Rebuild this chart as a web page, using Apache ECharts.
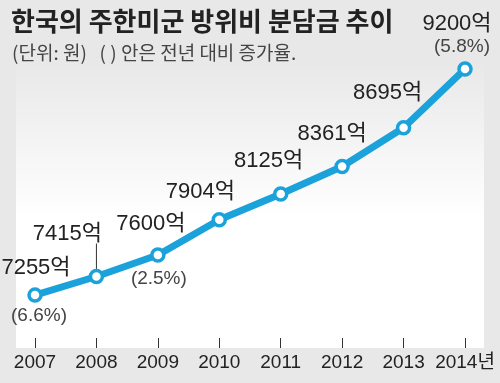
<!DOCTYPE html>
<html><head><meta charset="utf-8">
<script src="https://cdn.jsdelivr.net/npm/echarts@6/dist/echarts.min.js"></script>
<style>html,body{margin:0;padding:0;background:#e8e8e8;}#c{width:500px;height:383px;}</style>
</head><body><div id="c"></div>
<script>
const years = ['2007','2008','2009','2010','2011','2012','2013','2014년'];
const values = [7255, 7415, 7600, 7904, 8125, 8361, 8695, 9200];
const valueLabels = ['7255억','7415억','7600억','7904억','8125억','8361억','8695억','9200억'];
const pctLabels = ['(6.6%)', null, '(2.5%)', null, null, null, null, '(5.8%)'];
const titleText = '한국의 주한미군 방위비 분담금 추이';
const subText = '(단위: 원)   ( ) 안은 전년 대비 증가율.';

const valOffsets = [[1,-27],[-29,-43],[-7,-31],[-19,-28],[-12,-33],[-10,-33],[-16,-35],[-8,-45]];
const pctOffsets = [[4,21],null,[1,24],null,null,null,null,[-3,-22]];
const FONT = '"Liberation Sans", "Noto Sans CJK KR", sans-serif';
const BLUE = '#1ba2da';

const chart = echarts.init(document.getElementById('c'));
const option = {
  backgroundColor: '#e8e8e8',
  animation: false,
  graphic: [
    {type:'rect', z:-10, shape:{x:16,y:60,width:468,height:288},
     style:{fill:new echarts.graphic.LinearGradient(0,0,0,1,[{offset:0,color:'#e8e8e8'},{offset:0.55,color:'#ffffff'},{offset:1,color:'#ffffff'}])}},
    {type:'text', left:11, top:8, style:{text:titleText, font:'bold 26px "Noto Sans CJK KR", sans-serif', fill:'#222'}},
    {type:'text', left:12, top:43, style:{text:subText, font:'19px "Noto Sans CJK KR", sans-serif', fill:'#444'}}
  ],
  grid: {left:35, right:35, top:69, bottom:35},
  xAxis: {
    type:'category', data: years, boundaryGap:false,
    axisLine:{show:false},
    axisTick:{show:true, inside:true, length:10, interval:0, lineStyle:{color:'#333', width:1}},
    axisLabel:{color:'#222', fontSize:19, fontFamily:FONT, margin:5, interval:0}
  },
  yAxis: {type:'value', min:6800, max:9200, show:false, splitLine:{show:false}},
  series: [
    {
      type:'line', data: values.map((v,i)=>({value:v, label:{offset:valOffsets[i]}})),
      lineStyle:{color:BLUE, width:7},
      itemStyle:{color:'#fff', borderColor:BLUE, borderWidth:3.5},
      symbol:'circle', symbolSize:12,
      label:{show:true, position:'inside', fontSize:22, fontFamily:FONT, color:'#222',
        formatter:p=>valueLabels[p.dataIndex]},
      z:3
    },
    {
      type:'line', data: values.map((v,i)=>pctLabels[i]?{value:v, label:{offset:pctOffsets[i]}}:null),
      lineStyle:{opacity:0}, symbol:'circle', symbolSize:0.1,
      itemStyle:{color:'rgba(0,0,0,0)'},
      label:{show:true, position:'inside', fontSize:19, fontFamily:FONT, color:'#444',
        formatter:p=>pctLabels[p.dataIndex]||''},
      z:2
    }
  ]
};
chart.setOption(option);
const p = chart.convertToPixel({xAxisIndex:0, yAxisIndex:0}, [1, values[1]]);
chart.setOption({graphic: option.graphic.concat([
  {type:'line', z:1, shape:{x1:p[0], y1:p[1]-33, x2:p[0], y2:p[1]-5}, style:{stroke:'#333', lineWidth:1}}
])});
</script></body></html>
